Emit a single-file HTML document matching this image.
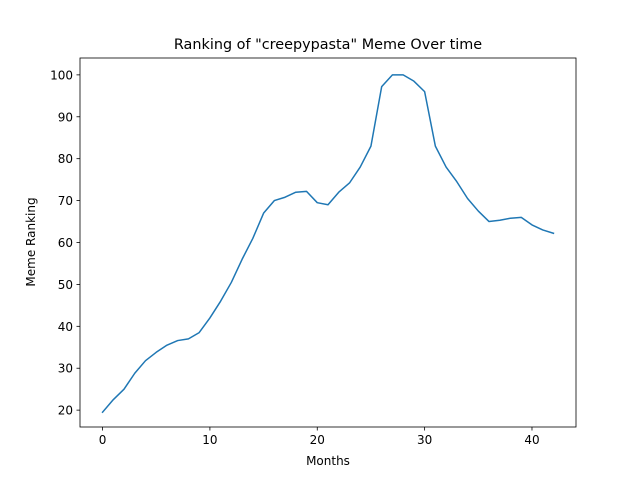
<!DOCTYPE html>
<html><head><meta charset="utf-8"><style>
body{margin:0;background:#fff;}
svg{display:block;font-family:"DejaVu Sans","Liberation Sans",sans-serif;}
</style></head><body>
<svg id="chart" width="640" height="480">
<rect x="0" y="0" width="640" height="480" fill="#fff"/>
<g id="plot"></g>
<text x="328" y="49" text-anchor="middle" font-size="14.4">Ranking of "creepypasta" Meme Over time</text>
<text x="328" y="465" text-anchor="middle" font-size="12">Months</text>
<text transform="translate(35,242) rotate(-90)" text-anchor="middle" font-size="12">Meme Ranking</text>
</svg>
<script>
const months = [0,1,2,3,4,5,6,7,8,9,10,11,12,13,14,15,16,17,18,19,20,21,22,23,24,25,26,27,28,29,30,31,32,33,34,35,36,37,38,39,40,41,42];
const rankings = [19.5,22.5,25,28.8,31.8,33.8,35.5,36.6,37,38.5,42,46,50.5,56,61,67,70,70.8,72,72.2,69.5,69,72,74.2,78,83,97.2,100,100,98.5,96,83,78,74.5,70.5,67.5,65,65.3,65.8,66,64.2,63,62.2];
const xTicks = [0,10,20,30,40];
const yTicks = [20,30,40,50,60,70,80,90,100];

const L=80,R=576,T=58,B=427;
const xmin=-2.1,xmax=44.1,ymin=15.975,ymax=104.025;
const sx=v=>L+(v-xmin)/(xmax-xmin)*(R-L);
const sy=v=>B-(v-ymin)/(ymax-ymin)*(B-T);
const NS="http://www.w3.org/2000/svg";
const g=document.getElementById('plot');
function mk(t,a){const e=document.createElementNS(NS,t);for(const k in a)e.setAttribute(k,a[k]);g.appendChild(e);return e;}

xTicks.forEach(v=>{
  const x=sx(v);
  const t=mk('line',{x1:x,x2:x,y1:B,y2:B+3.5,stroke:'#000','stroke-width':0.8});
  
  
  const l=mk('text',{x:x,y:B+17,'text-anchor':'middle','font-size':12});
  l.textContent=v;
  
  
});
yTicks.forEach(v=>{
  const y=sy(v);
  const t=mk('line',{x1:L-3.5,x2:L,y1:y,y2:y,stroke:'#000','stroke-width':0.8});
  
  
  const l=mk('text',{x:L-7,y:y+4.5,'text-anchor':'end','font-size':12});
  l.textContent=v;
  
  
});
const p=mk('polyline',{points:months.map((m,i)=>sx(m)+','+sy(rankings[i])).join(' '),fill:'none',stroke:'#1f77b4','stroke-width':1.5,'stroke-linejoin':'round','stroke-linecap':'square'});


const f=mk('rect',{x:L,y:T,width:R-L,height:B-T,fill:'none',stroke:'#000','stroke-width':0.8});


</script>
</body></html>
